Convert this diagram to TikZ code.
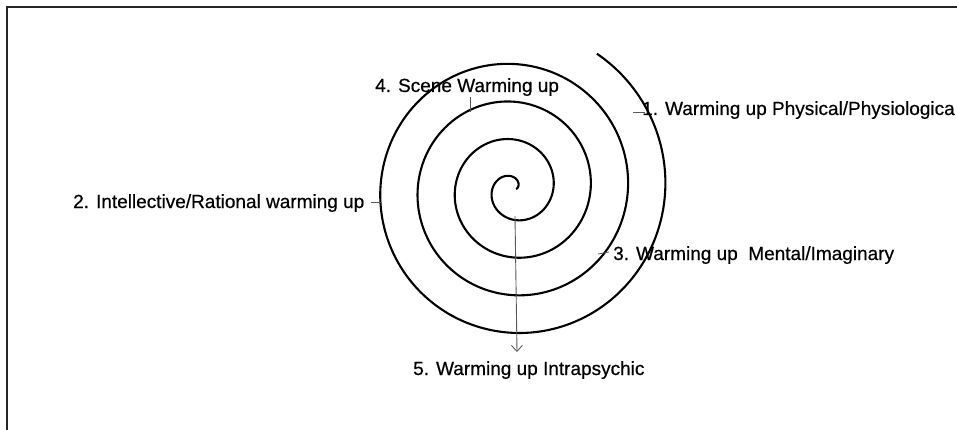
\documentclass[tikz,border=0pt]{standalone}
\usepackage{fontspec}
\setmainfont{Liberation Sans}
\newfontfamily\lblfont[FakeBold=0.5]{Liberation Sans}
\usetikzlibrary{arrows.meta}
\begin{document}
\begin{tikzpicture}[x=1pt,y=-1pt,
  lbl/.style={inner sep=0pt,anchor=base west,font=\lblfont\fontsize{19}{22}\selectfont},
  spiralline/.style={line width=2.1pt,black},
  tickline/.style={line width=0.8pt,black!65},
  arrowline/.style={line width=0.9pt,black!65,-{Straight Barb[length=6pt,width=11pt,line width=0.9pt]}},
  frameline/.style={line width=2pt,black!85}]
\useasboundingbox (0,0) rectangle (957,430);
\fill[white] (0,0) rectangle (957,430);
% frame (top and left edges visible)
\draw[frameline] (7,430) -- (7,7) -- (957,7);
% spiral
\draw[spiralline] plot[domain=0:26.15,samples=500,smooth,variable=\t]
  ({513.5+(2.5+5.94*\t)*cos(\t r)},{189-(2.5+6.0*\t)*sin(\t r)});
% labels
\node[lbl] (l1) at (642,115) {1. Warming up Physical/Physiologica};
\node[lbl] (l2) at (73,208) {2. Intellective/Rational warming up};
\node[lbl] (l3) at (613,260) {3. Warming up\ \ Mental/Imaginary};
\node[lbl] (l4) at (375,92) {4. Scene Warming up};
\node[lbl] (l5) at (413,375) {5. Warming up Intrapsychic};
% tick marks
\coordinate (t1a) at (633,112); \coordinate (t1b) at (645,112);
\coordinate (t2a) at (371,202); \coordinate (t2b) at (382,202);
\coordinate (t3a) at (598,254); \coordinate (t3b) at (609,252);
\coordinate (t4a) at (470,97);  \coordinate (t4b) at (470,112);
\draw[tickline] (t1a) -- (t1b);
\draw[tickline] (t2a) -- (t2b);
\draw[tickline] (t3a) -- (t3b);
\draw[tickline] (t4a) -- (t4b);
% arrow from spiral centre to label 5
\coordinate (c0) at (515,216);
\coordinate (c5) at (517,352);
\draw[arrowline] (c0) -- (c5);
\end{tikzpicture}
\end{document}
